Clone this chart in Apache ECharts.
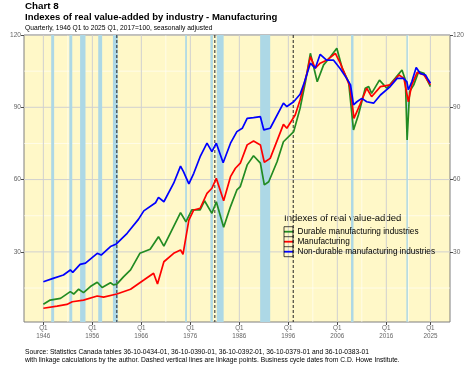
<!DOCTYPE html>
<html><head><meta charset="utf-8">
<script src="https://cdn.jsdelivr.net/npm/echarts@6/dist/echarts.min.js"></script>
<style>html,body{margin:0;padding:0;background:#fff}#c{width:474px;height:366px}</style>
</head><body><div id="c"></div>
<script>
// ---- data ----
const durable = [[1946.0,8.3],[1947.4,10.0],[1949.5,10.7],[1951.5,13.5],[1952.2,12.5],[1953.2,14.5],[1954.2,13.1],[1955.6,15.6],[1957.0,17.4],[1958.0,15.2],[1959.7,17.2],[1960.3,16.3],[1961.0,16.6],[1962.4,19.7],[1963.8,22.5],[1965.7,29.4],[1967.8,31.1],[1969.5,36.3],[1970.6,32.4],[1971.9,37.7],[1974.0,46.3],[1975.1,42.5],[1976.3,47.4],[1978.0,47.4],[1978.9,51.2],[1980.4,46.0],[1981.3,50.8],[1982.8,40.2],[1984.2,48.8],[1985.5,55.7],[1986.2,57.1],[1987.6,66.1],[1988.9,69.9],[1990.3,66.8],[1991.1,57.8],[1992.0,59.1],[1993.7,67.4],[1995.0,75.7],[1997.1,79.9],[1998.4,89.6],[1999.5,100.6],[2000.5,112.4],[2001.9,100.6],[2003.2,107.6],[2004.6,111.0],[2005.9,114.5],[2007.0,106.2],[2008.3,100.6],[2009.3,80.6],[2010.3,86.8],[2011.7,97.9],[2012.4,98.6],[2013.0,95.8],[2014.6,101.3],[2016.1,97.9],[2017.8,102.0],[2019.2,105.5],[2019.9,101.3],[2020.25,76.4],[2020.75,96.5],[2021.6,99.3],[2022.6,104.8],[2023.7,104.1],[2025.0,98.6]];
const manufacturing = [[1946.0,6.6],[1948.8,7.5],[1950.8,8.2],[1951.9,9.3],[1954.2,10.0],[1957.0,11.7],[1958.3,11.2],[1961.0,12.5],[1963.8,14.5],[1965.7,17.2],[1966.5,18.3],[1968.5,21.1],[1969.3,16.7],[1970.6,25.9],[1972.6,29.4],[1974.0,30.8],[1974.5,29.0],[1975.7,43.2],[1976.7,47.4],[1978.0,48.1],[1979.4,54.3],[1980.4,56.4],[1981.3,60.5],[1982.8,51.2],[1984.2,61.2],[1985.2,64.7],[1986.2,66.8],[1987.6,74.4],[1988.9,76.0],[1990.3,74.4],[1991.1,67.2],[1992.3,68.8],[1995.0,82.9],[1995.7,81.3],[1997.4,86.8],[1998.4,93.0],[1999.8,104.1],[2000.5,111.0],[2001.5,106.2],[2002.5,108.3],[2003.9,109.6],[2005.6,112.4],[2006.6,108.3],[2007.9,102.0],[2008.5,99.0],[2009.0,92.0],[2009.4,85.4],[2010.6,91.0],[2012.0,97.9],[2013.0,94.4],[2014.8,98.6],[2016.8,99.3],[2018.6,103.4],[2019.6,102.0],[2020.5,92.3],[2021.2,99.3],[2022.3,104.5],[2023.7,103.4],[2025.0,99.3]];
const nondurable = [[1946.0,17.6],[1948.0,19.0],[1950.1,20.4],[1951.5,22.5],[1952.0,21.5],[1953.5,24.8],[1954.6,25.3],[1957.0,29.4],[1957.8,28.7],[1959.7,32.2],[1960.9,33.3],[1963.1,37.7],[1963.8,39.5],[1965.4,43.5],[1966.5,47.0],[1968.9,50.4],[1969.5,52.6],[1970.6,50.8],[1972.6,58.5],[1974.0,65.6],[1974.6,63.3],[1975.7,58.2],[1976.7,62.6],[1978.0,69.5],[1979.4,75.1],[1980.4,71.6],[1981.3,75.1],[1982.7,67.0],[1984.2,75.1],[1985.5,79.9],[1986.6,81.3],[1987.6,85.4],[1988.9,85.7],[1990.3,86.1],[1991.0,80.6],[1992.3,81.3],[1995.0,91.7],[1995.7,90.3],[1997.1,92.3],[1998.4,95.4],[1999.1,99.3],[2000.5,108.3],[2001.5,106.2],[2002.5,112.0],[2003.8,109.6],[2005.2,109.6],[2006.6,106.0],[2007.9,102.0],[2008.7,99.3],[2009.3,91.0],[2010.0,92.3],[2011.0,93.7],[2012.0,92.3],[2013.4,91.7],[2014.8,95.1],[2016.8,98.6],[2018.2,102.0],[2019.5,102.0],[2020.2,100.6],[2020.5,97.2],[2021.2,100.6],[2022.1,106.5],[2022.9,104.1],[2024.0,103.4],[2024.6,101.3],[2025.0,100.0]];
const seriesNames = ['Durable manufacturing industries','Manufacturing','Non-durable manufacturing industries'];
const recessionStart = [1947.6,1951.3,1953.5,1957.2,1960.2,1974.95,1980.1,1981.4,1990.25,2008.8,2020.1];
const recessionEnd   = [1948.2,1951.9,1954.6,1958.0,1961.2,1975.3,1980.6,1982.8,1992.3,2009.3,2020.4];
const linkagePoints = [1961.0,1981.0,1997.0];
const xTicks = [1946,1956,1966,1976,1986,1996,2006,2016,2025];
const xMinor = [1951,1961,1971,1981,1991,2001,2011,2020.5];
const yTicks = [30,60,90,120];
const yMinor = [15,45,75,105];

const FONT = '"Liberation Sans", Arial, sans-serif';
const XMIN = 1942.05, XMAX = 2029.0, YMIN = 0.9, YMAX = 120;

function vlines(xs, color, width, dash, z) {
  return {type:'custom', silent:true, z:z, clip:true, encode:{x:0,y:1},
    data: xs.map(x=>[x,60]),
    renderItem:(p,api)=>{const cs=p.coordSys;const pt=api.coord([api.value(0),api.value(1)]);
      return {type:'line',shape:{x1:pt[0],y1:cs.y,x2:pt[0],y2:cs.y+cs.height},style:{stroke:color,lineWidth:width,lineDash:dash||null}};}};
}
function hlines(ys, color, width, z) {
  return {type:'custom', silent:true, z:z, clip:true, encode:{x:0,y:1},
    data: ys.map(y=>[1980,y]),
    renderItem:(p,api)=>{const cs=p.coordSys;const pt=api.coord([api.value(0),api.value(1)]);
      return {type:'line',shape:{x1:cs.x,y1:pt[1],x2:cs.x+cs.width,y2:pt[1]},style:{stroke:color,lineWidth:width}};}};
}
const bands = {type:'custom', silent:true, z:3, clip:true, encode:{x:[0,1],y:2},
  data: recessionStart.map((s,i)=>[s,recessionEnd[i],60]),
  renderItem:(p,api)=>{const cs=p.coordSys;const a=api.coord([api.value(0),60]);const b=api.coord([api.value(1),60]);
    return {type:'rect',shape:{x:a[0],y:cs.y,width:b[0]-a[0],height:cs.height},style:{fill:'#ADD8E6'}};}};

const lineStyleFor = c => ({type:'line', showSymbol:false, symbol:'none', z:10, lineStyle:{width:1.7,color:c}, itemStyle:{color:c}, emphasis:{disabled:true}});

const axisCommon = {type:'value', min:YMIN, max:YMAX, splitLine:{show:false}, axisLine:{show:false},
  axisTick:{show:true, length:3, lineStyle:{color:'#4d4d4d'}, customValues:yTicks},
  axisLabel:{customValues:yTicks, fontFamily:FONT, fontSize:6.6, color:'#666', margin:3},
  name:'Index with 2017=100', nameLocation:'middle', nameTextStyle:{fontFamily:FONT,fontSize:6.8,color:'#222'}};

const chart = echarts.init(document.getElementById('c'), null, {renderer:'canvas'});
chart.setOption({
  animation:false,
  grid:{left:24,right:24,top:35,bottom:44,show:true,backgroundColor:'#FFF8C8',borderColor:'#7f7f7f',borderWidth:1,containLabel:false,outerBoundsMode:'none'},
  xAxis:{type:'value',min:XMIN,max:XMAX,splitLine:{show:false},axisLine:{show:false},
    axisTick:{show:true,length:3,lineStyle:{color:'#4d4d4d'},customValues:xTicks},
    axisLabel:{customValues:xTicks,formatter:v=>'Q1\n'+v,fontFamily:FONT,fontSize:6.3,color:'#666',lineHeight:7.5,margin:3}},
  yAxis:[
    Object.assign({}, axisCommon, {position:'left', nameRotate:90, nameGap:18}),
    Object.assign({}, axisCommon, {position:'right', nameRotate:-90, nameGap:20})
  ],
  legend:{data:seriesNames, orient:'vertical', left:284, top:226.7, padding:0, itemGap:0,
    icon:'rect', itemWidth:9, itemHeight:1.8, selectedMode:false,
    textStyle:{fontFamily:FONT,fontSize:8.25,color:'#000',lineHeight:10,padding:[0,0,0,-0.5]}},
  series:[
    hlines(yMinor,'#FFFFFF',0.6,1),
    vlines(xMinor,'#FFFFFF',0.6,null,1),
    hlines(yTicks,'#D0D0D0',1,2),
    vlines(xTicks,'#D0D0D0',1,null,2),
    bands,
    vlines(linkagePoints,'#222',1,[3,2],4),
    Object.assign(lineStyleFor('#228B22'),{name:seriesNames[0],data:durable}),
    Object.assign(lineStyleFor('#FF0000'),{name:seriesNames[1],data:manufacturing}),
    Object.assign(lineStyleFor('#0000FF'),{name:seriesNames[2],data:nondurable})
  ],
  graphic:[
    {type:'text',left:25,top:1.5,style:{text:'Chart 8',font:'bold 9.8px '+FONT,fill:'#000'}},
    {type:'text',left:25,top:12,style:{text:'Indexes of real value-added by industry - Manufacturing',font:'bold 9.5px '+FONT,fill:'#000'}},
    {type:'text',left:25,top:24.5,style:{text:'Quarterly, 1946 Q1 to 2025 Q1, 2017=100, seasonally adjusted',font:'6.7px '+FONT,fill:'#000'}},
    {type:'text',left:284,top:213.5,style:{text:'Indexes of real value-added',font:'9.5px '+FONT,fill:'#000'}},
    {type:'rect',shape:{x:284,y:226.7,width:9,height:30},style:{fill:'none',stroke:'#000',lineWidth:0.7},z:20},
    {type:'line',shape:{x1:284,y1:236.7,x2:293,y2:236.7},style:{stroke:'#000',lineWidth:0.7},z:20},
    {type:'line',shape:{x1:284,y1:246.7,x2:293,y2:246.7},style:{stroke:'#000',lineWidth:0.7},z:20},
    {type:'text',left:25,top:347.5,style:{text:'Source: Statistics Canada tables 36-10-0434-01, 36-10-0390-01, 36-10-0392-01, 36-10-0379-01 and 36-10-0383-01\nwith linkage calculations by the author. Dashed vertical lines are linkage points. Business cycle dates from C.D. Howe Institute.',font:'6.7px '+FONT,fill:'#000',lineHeight:8.5}}
  ]
});
</script></body></html>
